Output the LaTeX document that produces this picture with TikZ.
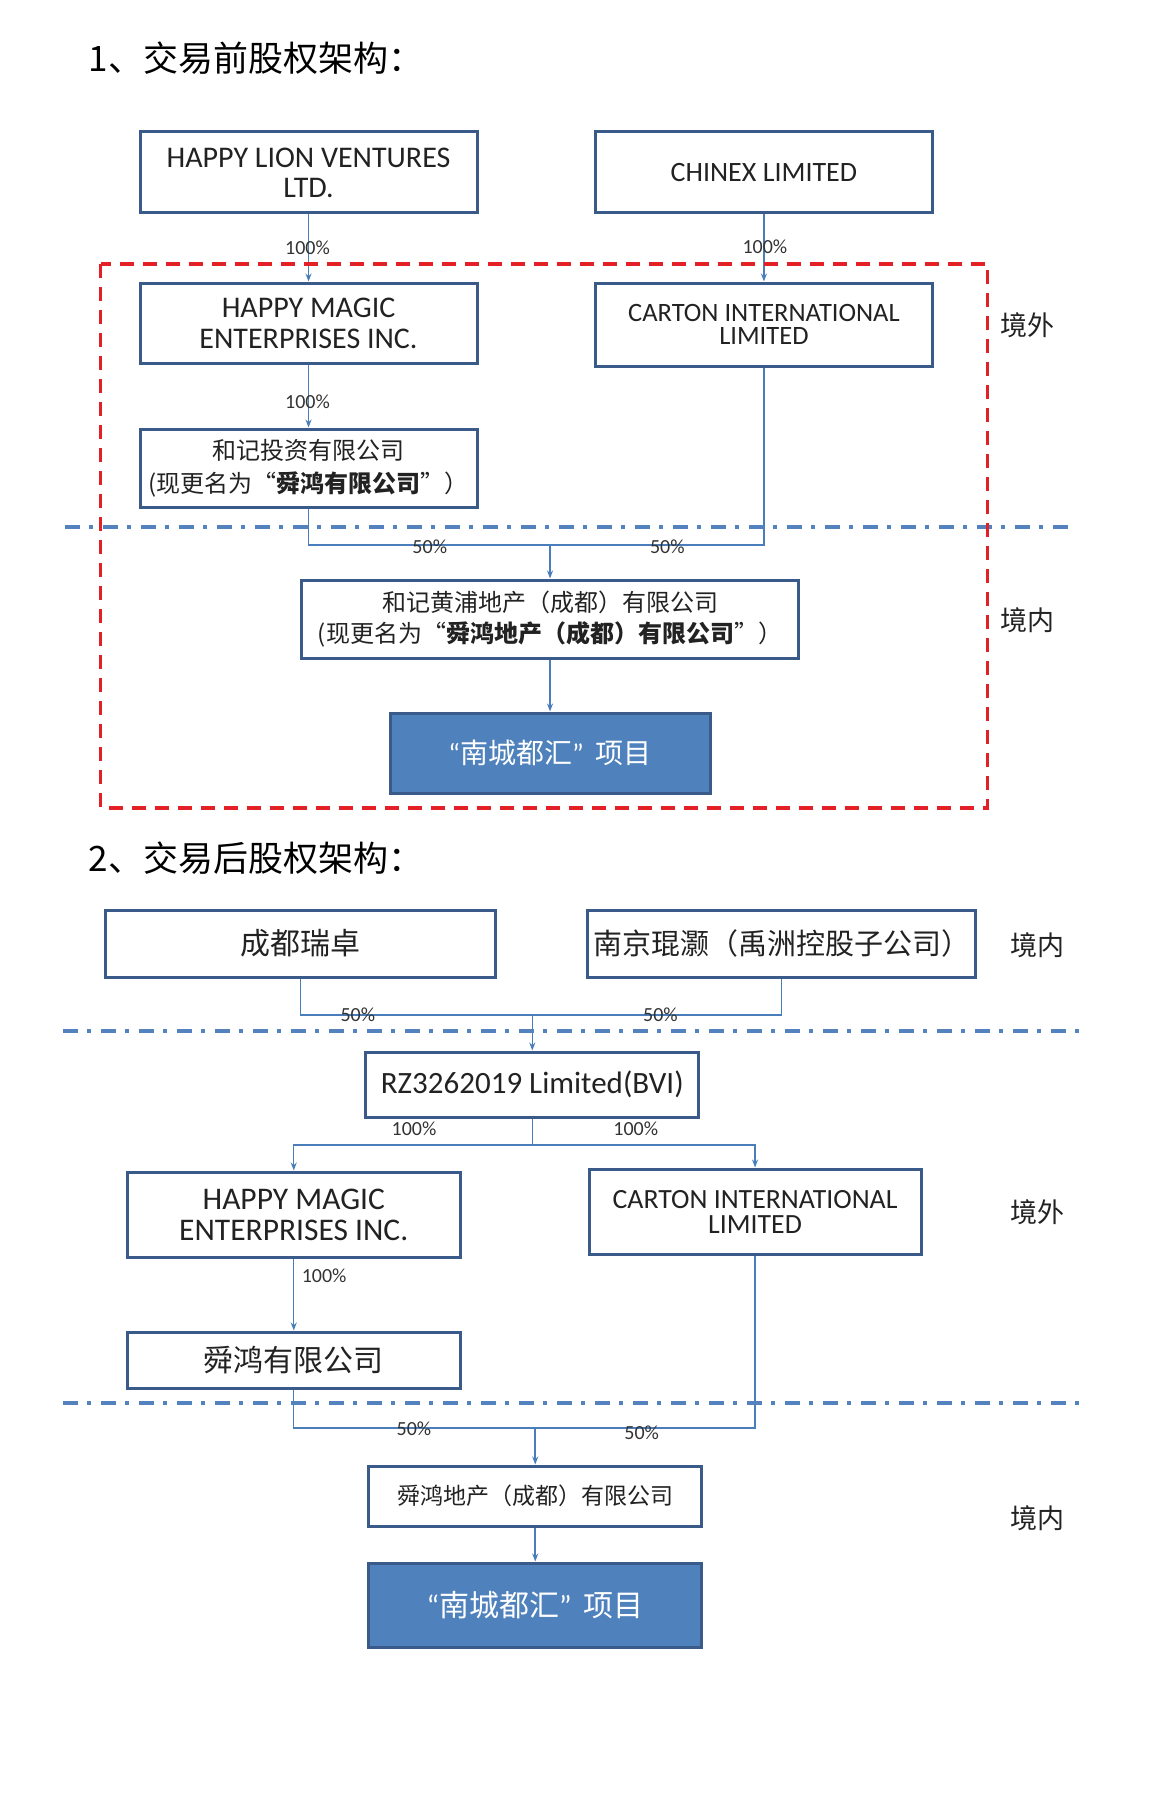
\documentclass[tikz,border=0pt]{standalone}
\usepackage{fontspec}
\setmainfont{Carlito}
\newfontfamily\cjk{Noto Sans CJK SC}
\usetikzlibrary{arrows.meta}
\definecolor{boxblue}{HTML}{3A5A8A}
\definecolor{lineblue}{HTML}{4A7EBB}
\definecolor{ddblue}{HTML}{5382BE}
\definecolor{projfill}{HTML}{4F81BD}
\definecolor{redline}{HTML}{E22026}
\definecolor{txt}{HTML}{222222}
\newcommand{\fs}[2]{\fontsize{#1}{#2}\selectfont}
\newcommand{\myLq}{{\normalfont “}}
\newcommand{\myRq}{{\normalfont ”}}
\begin{document}
\begin{tikzpicture}[x=0.9857pt,y=-1pt,
  box/.style={draw=boxblue, line width=3pt, fill=white, inner sep=0pt, align=center, text=txt},
  projbox/.style={draw=boxblue, line width=3pt, fill=projfill, inner sep=0pt, align=center, text=white},
  conn/.style={draw=lineblue, line width=1.5pt},
  arr/.style={conn, -{Stealth[length=8pt,width=6pt]}},
  pct/.style={font=\fs{20}{20}, text=black!80, inner sep=0pt},
  region/.style={font=\cjk\fs{27}{27}, text=txt, inner sep=0pt},
  titletxt/.style={font=\cjk\fs{35}{35}, text=black, inner sep=0pt, anchor=west},
  dashdotline/.style={draw=ddblue, line width=4pt, dash pattern=on 15pt off 9pt on 4pt off 10pt},
  redbox/.style={draw=redline, line width=3.5pt, dash pattern=on 14pt off 9pt}
]
\useasboundingbox (0,0) rectangle (1187,1795);

% ---------- Section 1 ----------
\node[titletxt] (t1) at (90,58) {1、交易前股权架构：};

\node[box, minimum width=337pt, minimum height=81pt, font=\fs{30}{30}] (hlv) at (313,172.5) {HAPPY LION VENTURES\\LTD.};
\node[box, minimum width=337pt, minimum height=81pt, font=\fs{28}{30}] (chinex) at (775,172.5) {CHINEX LIMITED};
\node[box, minimum width=337pt, minimum height=80pt, font=\fs{30}{31}] (hm1) at (313,323) {HAPPY MAGIC\\ENTERPRISES INC.};
\node[box, minimum width=337pt, minimum height=83pt, font=\fs{26.5}{23}] (carton1) at (775,324.5) {CARTON INTERNATIONAL\\LIMITED};
\node[box, minimum width=337pt, minimum height=78pt, font=\cjk\fs{24}{33}] (hj) at (313,468) {和记投资有限公司\\(现更名为“\textbf{舜鸿有限公司}”）};
\node[box, minimum width=497pt, minimum height=78pt, font=\cjk\fs{24}{31}] (hjhp) at (558,619) {和记黄浦地产（成都）有限公司\\(现更名为“\textbf{舜鸿地产（成都）有限公司}”）};
\node[projbox, minimum width=320pt, minimum height=80pt, font=\cjk\fs{28}{28}] (proj1) at (558,753) {\myLq 南城都汇\myRq\hspace{12pt}项目};

\draw[arr] (hlv.south) -- (hm1.north);
\draw[arr] (chinex.south) -- (carton1.north);
\draw[arr] (hm1.south) -- (hj.north);
\coordinate (j1) at (558,545);
\draw[conn] (hj.south) |- (j1) -| (carton1.south);
\draw[arr] (j1) -- (hjhp.north);
\draw[arr] (hjhp.south) -- (proj1.north);

\node[pct] (p1) at (312,248) {100\%};
\node[pct] (p2) at (776,247) {100\%};
\node[pct] (p3) at (312,402) {100\%};
\node[pct] (p4) at (436,547) {50\%};
\node[pct] (p5) at (677,547) {50\%};

\draw[dashdotline] (66,527) -- (1087,527);
\draw[redbox] (102,264) rectangle (1002,808);

\node[region] (r1) at (1042,325) {境外};
\node[region] (r2) at (1042,620) {境内};

% ---------- Section 2 ----------
\node[titletxt] (t2) at (90,858) {2、交易后股权架构：};

\node[box, minimum width=390pt, minimum height=67pt, font=\cjk\fs{30}{30}] (cdrz) at (305,943.5) {成都瑞卓};
\node[box, minimum width=388pt, minimum height=67pt, font=\cjk\fs{29}{29}] (nj) at (793,943.5) {南京琨灏（禹洲控股子公司）};
\node[box, minimum width=333pt, minimum height=65pt, font=\fs{31}{31}] (rz) at (540,1084.5) {RZ3262019 Limited(BVI)};
\node[box, minimum width=333pt, minimum height=85pt, font=\fs{31.5}{31}] (hm2) at (298,1214.5) {HAPPY MAGIC\\ENTERPRISES INC.};
\node[box, minimum width=332pt, minimum height=85pt, font=\fs{27.8}{25}] (carton2) at (766,1211.5) {CARTON INTERNATIONAL\\LIMITED};
\node[box, minimum width=333pt, minimum height=56pt, font=\cjk\fs{30}{30}] (sh) at (298,1360) {舜鸿有限公司};
\node[box, minimum width=333pt, minimum height=60pt, font=\cjk\fs{23}{23}] (shdc) at (543,1496) {舜鸿地产（成都）有限公司};
\node[projbox, minimum width=333pt, minimum height=84pt, font=\cjk\fs{30}{30}] (proj2) at (543,1605) {\myLq 南城都汇\myRq\hspace{12pt}项目};

\coordinate (j2) at (540,1015);
\draw[conn] (cdrz.south) |- (j2) -| (nj.south);
\draw[arr] (j2) -- (rz.north);
\coordinate (j3) at (540,1145);
\draw[conn] (rz.south) -- (j3);
\draw[arr] (j3) -| (hm2.north);
\draw[arr] (j3) -| (carton2.north);
\draw[arr] (hm2.south) -- (sh.north);
\coordinate (j4) at (543,1428);
\draw[conn] (sh.south) |- (j4) -| (carton2.south);
\draw[arr] (j4) -- (shdc.north);
\draw[arr] (shdc.south) -- (proj2.north);

\node[pct] (q1) at (363,1015) {50\%};
\node[pct] (q2) at (670,1015) {50\%};
\node[pct] (q3) at (420,1129) {100\%};
\node[pct] (q4) at (645,1129) {100\%};
\node[pct, anchor=west] (q5) at (306,1276) {100\%};
\node[pct] (q6) at (420,1429) {50\%};
\node[pct] (q7) at (651,1433) {50\%};

\draw[dashdotline] (64,1031) -- (1095,1031);
\draw[dashdotline] (64,1403) -- (1095,1403);

\node[region] (r3) at (1053,945) {境内};
\node[region] (r4) at (1053,1212) {境外};
\node[region] (r5) at (1053,1518) {境内};
\end{tikzpicture}
\end{document}
